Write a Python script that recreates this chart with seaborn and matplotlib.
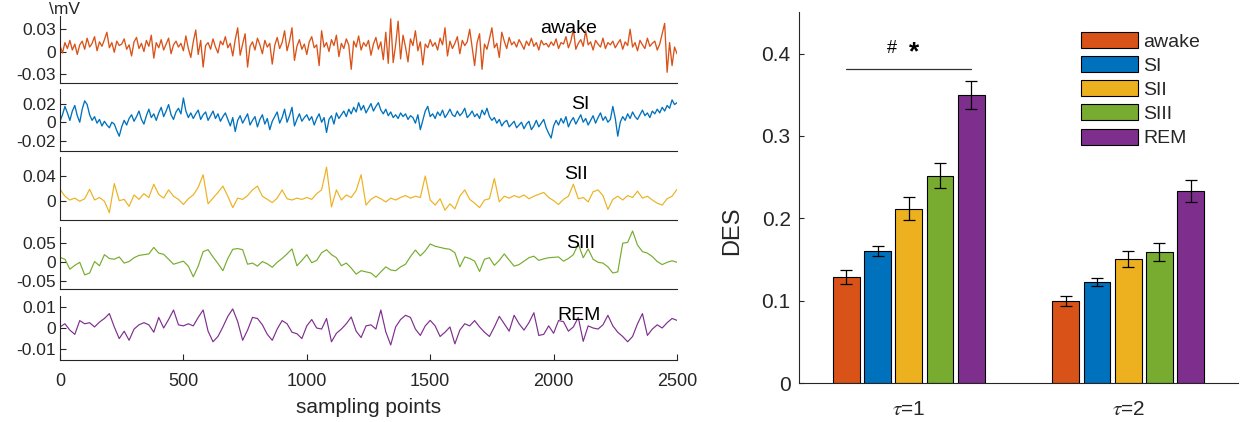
import matplotlib
matplotlib.use("Agg")
import matplotlib.pyplot as plt
import numpy as np
import pandas as pd
import seaborn as sns

# ---- EEG traces (in 1e-3 mV) ----
samples_fine = np.arange(0, 2501, 10)
samples_coarse = np.arange(0, 2501, 20)

awake_trace = [
    8, -2, 12, 4, 15, 2, 10, -4, 9, 14, 3, 18, 6, 11, 20, 1, 13, 7, 16, 26, 5, 12, -1, 14, 8,
    10, 17, 3, 9, -6, 13, 19, 4, 11, 0, 15, 7, 22, -9, 12, 5, 16, 2, 10, 18, -3, 9, 14, 6, 11,
    1, 21, 4, -8, 13, 29, -4, 15, -21, 8, 12, 3, 17, 6, -2, 14, 9, 20, 5, 11, -6, 16, 32, -5, 10,
    24, -21, 7, 13, 2, 18, 9, -3, 15, 6, 11, -17, 8, 19, 4, 12, 28, 1, 14, 32, -12, 7, 16, 3, 10,
    -4, 13, 20, 5, 9, -19, 28, 6, 12, 0, 16, 8, 22, -7, 11, 4, 17, 9, -24, 14, 6, 21, 2, 12, 7,
    15, -5, 10, 19, 3, 13, -11, 26, -16, 44, -15, 9, 41, -10, 22, 6, -14, 17, 8, 28, 1, 13, -18, 10, 5,
    16, 7, 12, 2, 18, 9, 32, -6, 14, 4, 11, 20, -3, 15, 8, 13, 30, 6, -19, 12, 24, -24, 10, 3, 17,
    32, 5, 11, -8, 26, 14, 4, 19, 9, 13, 6, 16, 10, 3, 14, 8, 18, 7, 12, 2, 15, 9, 11, 6, 13,
    8, 17, 4, 12, 10, 20, 5, 14, 30, 3, 11, 16, 7, 28, 9, 13, 2, 15, 10, 6, 18, 4, 12, 9, 14,
    5, 11, 16, 3, 13, 8, 30, 6, 12, 1, 15, 9, 4, 18, 7, 11, 14, 2, 10, 24, 38, -28, 12, -19, 6,
    -3,
]
si_trace = [
    1, 8, 17, 10, 2, 12, 18, 7, 0, 14, 23, 19, 8, 2, 6, -1, 3, -4, 1, -3, -6, 0, -2, -9, -15,
    -5, 2, -3, 4, 8, 1, 6, 12, 3, -2, 7, 14, 5, 9, 2, 10, 16, 6, 12, 19, 8, 3, 11, 15, 9,
    26, 12, 5, 10, 4, 9, 13, 3, 8, 11, 2, 7, 12, 4, 9, 1, 6, 10, 3, -4, 5, -10, 2, 7, -1,
    4, 9, -3, 2, 6, -5, 3, 8, -2, 4, -8, 1, 6, 11, -1, 5, 14, 0, 7, 16, -4, 3, 9, 1, 5,
    8, 2, 6, -3, 4, 9, 0, 5, -11, 3, 7, -2, 10, 4, 8, 12, 6, 14, 9, 16, 11, 21, 13, 18, 10,
    15, 20, 12, 17, 21, 13, 9, 14, 7, 11, 5, 8, 4, 10, 6, 9, 3, 7, 5, -1, 8, -8, 2, 12, 17,
    6, 9, 4, 11, 7, 13, 5, 9, 14, 8, 6, 12, 7, 10, 15, 5, 8, 12, 6, 9, 4, 13, 8, 15, 6,
    2, 5, -1, 3, -4, 0, 2, -5, -2, 1, -6, -3, 0, -7, -2, 1, -8, -4, 2, -5, -1, 3, -6, -12, -17,
    -4, 2, -3, 4, -1, 6, -5, 1, 5, -2, 3, 8, 0, 4, -3, 2, 7, -1, 5, 10, 2, 6, 0, 3, 17,
    4, -15, 0, 6, 2, 9, 4, 11, 6, 3, 8, 13, 7, 10, 5, 12, 9, 14, 10, 16, 12, 18, 15, 24, 19,
    21,
]
sii_trace = [
    19, 8, 2, 5, 0, 4, 19, 2, 6, 0, -18, 28, 1, 3, -8, 10, 3, 12, 6, 27,
    11, 5, 18, 8, 3, -5, 4, 10, 22, 42, -4, 5, 14, 24, 8, -10, 5, 3, 9, 18,
    24, 8, 3, -2, 5, 18, 4, 2, 5, 3, 6, 3, 12, 18, 54, -9, 18, 2, 10, 6,
    17, 42, -6, 3, 8, 4, -1, 5, 2, 6, 9, 5, 8, 6, 40, 2, -6, 4, -14, -4,
    -12, 8, 18, 3, -3, -10, 2, 4, 36, -1, 8, 5, 9, 6, 10, 4, 8, 11, 14, 6,
    1, -5, 3, 8, 27, 4, 6, -1, 15, 18, 9, -13, 3, 8, 2, 9, 6, 16, 5, 8,
    2, -3, -6, 4, 8, 19,
]
siii_trace = [
    13, 8, -18, -8, 0, -33, -28, 2, -9, 20, 10, 8, 14, -2, 2, 12, 18, 20, 22, 39,
    24, 21, 8, -5, -1, 3, -10, -38, -10, 28, 33, 14, -3, -22, 10, 34, 36, 33, -5, -2,
    -10, 2, -4, -13, 0, 10, 22, 35, -9, 5, 20, -1, 5, 25, 33, 20, 12, -9, -2, -15,
    -31, -22, -25, -28, -39, -25, -12, -20, -22, -12, -5, 15, 32, 17, 30, 48, 42, 39, 36, 34,
    25, -12, 14, 10, 3, -24, 8, 12, -8, 5, 22, 6, -10, -6, 3, 12, 16, 5, 9, 12,
    13, 14, 3, 10, 20, 48, 12, 35, 8, 0, -2, -12, -28, -25, 50, 52, 82, 45, 28, 24,
    15, 2, -6, 0, 4, 0,
]
rem_trace = [
    0.5, 2.0, -1.0, -3.0, 3.5, 2.0, 2.5, 0.5, 2.8, 4.5, 6.8, 0.5, -5.0, -1.5, -5.8, -0.5, 1.5, 2.5, 1.5, -2.0,
    5.0, 0.0, 4.0, 8.5, 1.5, 1.0, 2.0, 1.0, 5.0, 8.5, -1.5, -6.5, -4.0, 0.5, 5.5, 9.0, 3.0, -5.8, -1.0, 5.0,
    4.5, 1.5, -3.0, -5.8, -0.5, 3.5, 2.0, -2.0, -2.7, -5.0, 1.0, 4.0, 0.0, -0.5, 4.5, -6.5, -2.5, -0.5, 2.0, 5.2,
    -1.5, -4.5, 1.0, 1.5, -0.5, 8.5, -1.8, -8.0, 0.5, 4.0, 6.0, 5.0, -0.5, -3.5, 1.0, 3.6, 1.0, -4.0, -2.0, 0.5,
    -7.5, -1.0, 2.0, 1.0, 3.5, 0.5, -2.0, -4.0, 0.5, 5.5, 2.0, -1.5, 6.0, 2.0, -1.0, 2.5, 7.2, -3.5, -3.0, 1.0,
    -2.5, 3.5, 3.0, -1.5, 0.5, 5.0, -6.3, 1.0, 0.0, -0.5, 1.5, 6.0, 1.0, -2.0, -4.0, -6.5, -4.0, 2.0, 6.8, -3.5,
    -0.5, 1.5, 0.0, 2.5, 4.5, 3.6,
]

trace_names = ["awake", "SI", "SII", "SIII", "REM"]
trace_ticks = [[-0.03, 0, 0.03], [-0.02, 0, 0.02], [0, 0.04], [-0.05, 0, 0.05], [-0.01, 0, 0.01]]

# ---- DES bar chart ----
states = ["awake", "SI", "SII", "SIII", "REM"]
taus = [r"$\tau$=1", r"$\tau$=2"]
des_tau1 = [0.129, 0.160, 0.212, 0.252, 0.350]
des_tau2 = [0.100, 0.123, 0.151, 0.159, 0.233]
sem_tau1 = [0.009, 0.006, 0.014, 0.015, 0.017]
sem_tau2 = [0.006, 0.005, 0.010, 0.011, 0.013]

colors = ["#D95319", "#0072BD", "#EDB120", "#77AC30", "#7E2F8E"]
INK = "#262626"

sns.set_style("white")
plt.rcParams["font.family"] = ["Liberation Sans", "DejaVu Sans"]
plt.rcParams["mathtext.fontset"] = "stix"
plt.rcParams["axes.unicode_minus"] = False

W, H = 1242, 422
fig = plt.figure(figsize=(W / 100, H / 100), dpi=100)


def px_axes(left, top, right, bottom):
    return fig.add_axes([left / W, 1 - bottom / H, (right - left) / W, (bottom - top) / H])


def style_axes(ax):
    for side in ("top", "right"):
        ax.spines[side].set_visible(False)
    for side in ("left", "bottom"):
        ax.spines[side].set_color(INK)
        ax.spines[side].set_linewidth(0.8)


# left column: five traces
panel_rows = [(15.7, 83.3), (89, 150.5), (156.7, 220), (226.7, 289.2), (296, 360)]
panel_ylims = [(-0.0429, 0.0483), (-0.0304, 0.0357), (-0.0296, 0.0705), (-0.0704, 0.0932), (-0.0151, 0.0151)]
label_pos = [(0.778, 0.744), (0.829, 0.67), (0.817, 0.643), (0.820, 0.654), (0.806, 0.625)]
traces = [
    (samples_fine, awake_trace),
    (samples_fine, si_trace),
    (samples_coarse, sii_trace),
    (samples_coarse, siii_trace),
    (samples_coarse, rem_trace),
]

for i, ((top, bottom), (xs, vals)) in enumerate(zip(panel_rows, traces)):
    ax = px_axes(60, top, 677, bottom)
    sns.lineplot(x=xs, y=np.asarray(vals) * 1e-3, ax=ax, color=colors[i],
                 linewidth=0.95 if i < 2 else 0.85)
    ax.set_xlim(0, 2500)
    ax.set_ylim(*panel_ylims[i])
    ax.set_yticks(trace_ticks[i], labels=[f"{t:g}" for t in trace_ticks[i]])
    ax.tick_params(axis="y", direction="in", length=4, width=0.8, pad=3,
                   labelsize=12.5, colors=INK, left=True)
    style_axes(ax)
    ax.set_ylabel("")
    ax.text(*label_pos[i], trace_names[i], transform=ax.transAxes, fontsize=14,
            va="baseline", ha="left", color="black")
    if i < 4:
        ax.set_xticks([])
    else:
        ax.set_xticks([0, 500, 1000, 1500, 2000, 2500])
        ax.tick_params(axis="x", direction="in", length=4, width=0.8, pad=9,
                       labelsize=13, colors=INK, bottom=True)
        ax.set_xlabel("sampling points", fontsize=15, color=INK, labelpad=6)

fig.text(49 / W, 1 - 2 / H, "\\mV", ha="left", va="top", fontsize=12.5, color=INK)

# right: DES bars
df = pd.DataFrame({
    "tau": np.repeat(taus, len(states)),
    "state": states * 2,
    "DES": des_tau1 + des_tau2,
    "sem": sem_tau1 + sem_tau2,
})

ax = px_axes(799, 12.3, 1238, 383.3)
sns.barplot(data=df, x="tau", y="DES", hue="state", order=taus, hue_order=states,
            palette=colors, width=0.711, gap=0.144, errorbar=None, saturation=1,
            edgecolor="black", linewidth=0.8, ax=ax)
bar_groups = list(ax.containers)

for state, container in zip(states, bar_groups):
    sem = df[df["state"] == state].set_index("tau").loc[taus, "sem"].values
    xs = [b.get_x() + b.get_width() / 2 for b in container]
    ys = [b.get_height() for b in container]
    ax.errorbar(xs, ys, yerr=sem, fmt="none", ecolor="black", elinewidth=0.9,
                capsize=4.2, capthick=0.9)

# significance bracket over tau=1
first = bar_groups[0][0]
last = bar_groups[-1][0]
x0 = first.get_x() + first.get_width() / 2
x1 = last.get_x() + last.get_width() / 2
ax.plot([x0, x1], [0.3815, 0.3815], color="#333333", linewidth=0.9)
ax.text(-0.078, 0.406, "#", ha="center", va="center", fontsize=13, color="black")
ax.text(0.0235, 0.402, "*", ha="center", va="center", fontsize=19, fontweight="bold", color="black")

ax.set_xlim(-0.5, 1.5)
ax.set_ylim(0, 0.45)
ax.set_yticks([0, 0.1, 0.2, 0.3, 0.4], labels=["0", "0.1", "0.2", "0.3", "0.4"])
ax.tick_params(axis="y", direction="in", length=3.5, width=0.8, pad=6, labelsize=15,
               colors=INK, left=True)
ax.tick_params(axis="x", direction="in", length=0, pad=12, labelsize=15, colors=INK)
ax.set_xlabel("")
ax.set_ylabel("DES", fontsize=17, color=INK)
ax.yaxis.set_label_coords(-0.128, 0.41)
style_axes(ax)

handles, labels = ax.get_legend_handles_labels()
ax.legend(handles, labels, loc="upper left", bbox_to_anchor=(0.643, 0.947),
          frameon=False, fontsize=14, handlelength=2.93, handleheight=0.89,
          handletextpad=0.27, labelspacing=0.28, borderpad=0, borderaxespad=0)

fig.savefig("out.png", dpi=100)
